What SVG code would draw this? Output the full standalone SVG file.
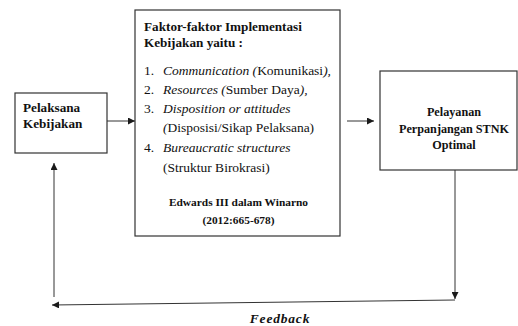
<svg xmlns="http://www.w3.org/2000/svg" width="518" height="326" viewBox="0 0 518 326" font-family="Liberation Serif, DejaVu Serif, serif">
<defs>
<marker id="ah" viewBox="0 0 10 10" refX="10" refY="5" markerWidth="7" markerHeight="7" markerUnits="userSpaceOnUse" orient="auto"><path d="M0,0 L10,5 L0,10 z" fill="#1a1a1a"/></marker>
</defs>
<style>
.box{fill:#fff;stroke:#333;stroke-width:1.2}
.ln{fill:none;stroke:#333;stroke-width:1}
text{fill:#111}
.b{font-weight:bold}
.l{font-size:13.5px}
.i{font-style:italic}
</style>
<rect width="518" height="326" fill="#fff"/>
<g id="connectors">
<line class="ln" x1="107" y1="121" x2="135" y2="121" marker-end="url(#ah)"/>
<line class="ln" x1="347" y1="121" x2="374" y2="121" marker-end="url(#ah)"/>
<line class="ln" x1="455" y1="170" x2="455" y2="299" marker-end="url(#ah)"/>
<line class="ln" x1="455" y1="300" x2="52" y2="305" marker-end="url(#ah)"/>
<line class="ln" x1="54" y1="297" x2="54" y2="163" marker-end="url(#ah)"/>
<text x="280" y="323" text-anchor="middle" class="b i" font-size="13.5" letter-spacing="0.8" font-family="Liberation Serif, serif">Feedback</text>
</g>
<g id="pelaksana" font-family="Liberation Serif, serif">
<rect class="box" x="15" y="93" width="92" height="60"/>
<text class="b" font-size="13.2" x="23" y="112">Pelaksana</text>
<text class="b" font-size="13.2" x="23" y="128">Kebijakan</text>
</g>
<g id="faktor" font-family="Liberation Serif, serif">
<rect class="box" x="135" y="10" width="205" height="226"/>
<text class="b" font-size="13.2" x="144" y="31">Faktor-faktor Implementasi</text>
<text class="b" font-size="13.2" x="144" y="47">Kebijakan yaitu :</text>
<text class="l" x="144" y="75">1.</text>
<text class="l" x="163" y="75"><tspan class="i">Communication (</tspan>Komunikasi<tspan class="i">),</tspan></text>
<text class="l" x="144" y="94">2.</text>
<text class="l" x="163" y="94"><tspan class="i">Resources  (</tspan>Sumber Daya<tspan class="i">),</tspan></text>
<text class="l" x="144" y="113">3.</text>
<text class="l i" x="163" y="113">Disposition or attitudes</text>
<text class="l" x="163" y="132"><tspan class="i">(</tspan>Disposisi/Sikap Pelaksana)</text>
<text class="l" x="144" y="152">4.</text>
<text class="l i" x="163" y="152">Bureaucratic structures</text>
<text class="l" x="163" y="172">(Struktur Birokrasi)</text>
<text class="b" font-size="11.4" x="238.5" y="206" text-anchor="middle">Edwards III dalam Winarno</text>
<text class="b" font-size="11.4" x="238.5" y="224" text-anchor="middle">(2012:665-678)</text>
</g>
<g id="pelayanan" font-family="Liberation Serif, serif">
<rect class="box" x="380" y="71" width="137" height="99"/>
<text class="b" font-size="12.2" x="454" y="116" text-anchor="middle">Pelayanan</text>
<text class="b" font-size="12.2" x="454" y="132.5" text-anchor="middle">Perpanjangan STNK</text>
<text class="b" font-size="12.2" x="454" y="149" text-anchor="middle">Optimal</text>
</g>
</svg>
